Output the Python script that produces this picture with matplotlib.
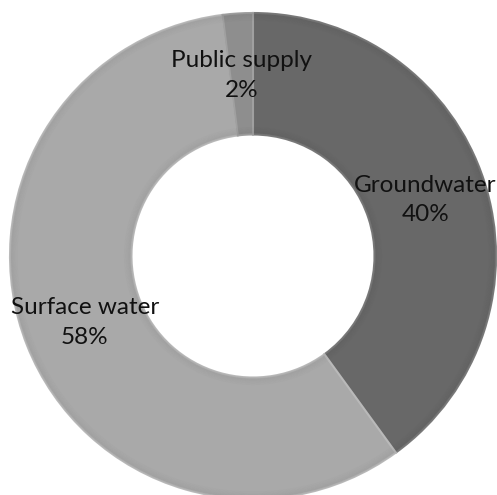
import matplotlib.pyplot as plt
import numpy as np
from matplotlib.patches import Wedge

labels = ["Groundwater", "Surface water", "Public supply"]
shares = [40, 58, 2]
colors = ["#686868", "#a9a9a9", "#8e8e8e"]
edge_colors = ["#7a7a7a", "#b9b9b9", "#a0a0a0"]

fig = plt.figure(figsize=(4.97, 4.95), dpi=100)
ax = fig.add_axes([0, 0, 1, 1])
ax.set_aspect("equal")
ax.axis("off")

wedges, _ = ax.pie(
    shares,
    colors=colors,
    startangle=90,
    counterclock=False,
    radius=1.0,
    wedgeprops=dict(width=0.5, linewidth=1.5),
)
for w, ec in zip(wedges, edge_colors):
    w.set_edgecolor(ec)

# soft bevel shading along the inner and outer rims
steps = 8
for i in range(steps):
    a = 0.05 * (1 - i / steps)
    ax.add_patch(Wedge((0, 0), 1.0 - i * 0.004, 0, 360, width=0.004,
                       color="black", alpha=a, lw=0))
    ax.add_patch(Wedge((0, 0), 0.5 + (i + 1) * 0.004, 0, 360, width=0.004,
                       color="black", alpha=a, lw=0))

total = sum(shares)
for w, name, val in zip(wedges, labels, shares):
    mid = np.deg2rad((w.theta1 + w.theta2) / 2)
    r = 0.745
    ax.text(r * np.cos(mid), r * np.sin(mid), f"{name}\n{val / total:.0%}",
            ha="center", va="center", fontsize=17.5, family="Lato",
            linespacing=1.5, color="#111111")

ax.set_xlim(-253 / 243, 244 / 243)
ax.set_ylim(-239 / 243, 256 / 243)

fig.savefig("out.png", dpi=100)
